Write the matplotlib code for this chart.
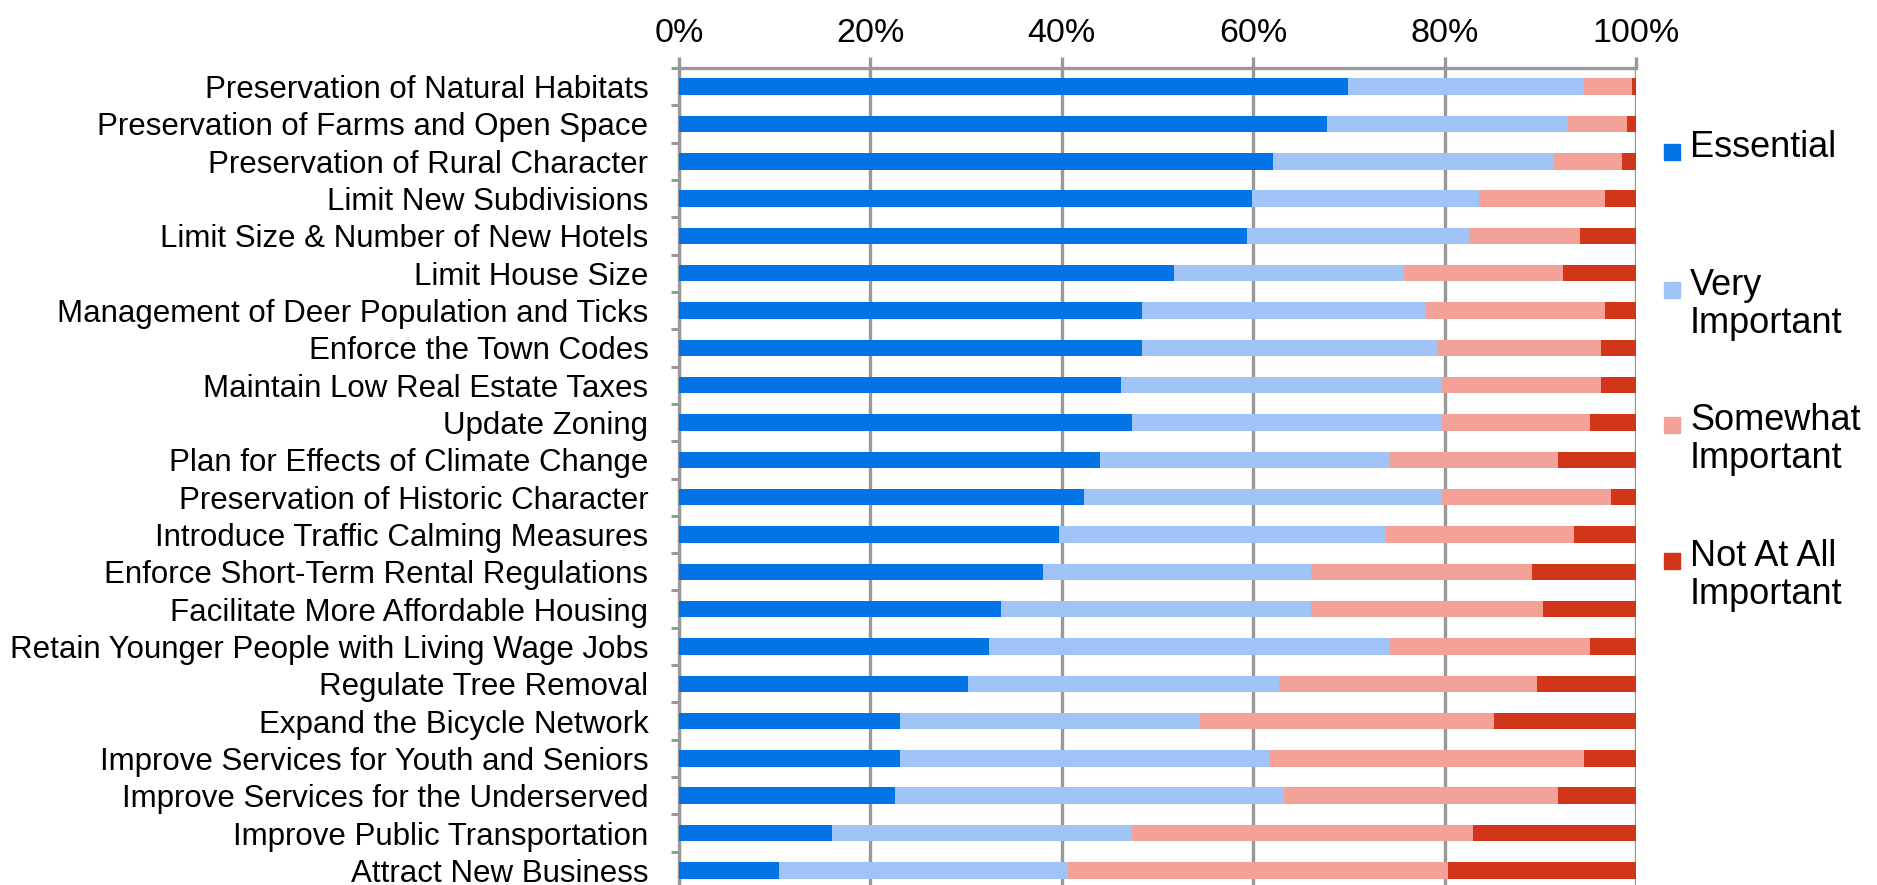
import matplotlib
matplotlib.use("Agg")
import matplotlib.pyplot as plt
from matplotlib.patches import Rectangle
from matplotlib.ticker import FixedLocator, PercentFormatter

plt.rcParams['font.family'] = ['Liberation Sans', 'DejaVu Sans']

categories = [
    "Preservation of Natural Habitats",
    "Preservation of Farms and Open Space",
    "Preservation of Rural Character",
    "Limit New Subdivisions",
    "Limit Size & Number of New Hotels",
    "Limit House Size",
    "Management of Deer Population and Ticks",
    "Enforce the Town Codes",
    "Maintain Low Real Estate Taxes",
    "Update Zoning",
    "Plan for Effects of Climate Change",
    "Preservation of Historic Character",
    "Introduce Traffic Calming Measures",
    "Enforce Short-Term Rental Regulations",
    "Facilitate More Affordable Housing",
    "Retain Younger People with Living Wage Jobs",
    "Regulate Tree Removal",
    "Expand the Bicycle Network",
    "Improve Services for Youth and Seniors",
    "Improve Services for the Underserved",
    "Improve Public Transportation",
    "Attract New Business",
]

essential = [69.9, 67.7, 62.1, 59.9, 59.3, 51.7, 48.4, 48.4, 46.2, 47.3, 44.0,
             42.3, 39.7, 38.0, 33.6, 32.4, 30.2, 23.1, 23.1, 22.6, 16.0, 10.4]
very_important = [24.7, 25.2, 29.2, 23.7, 23.2, 24.1, 29.7, 30.8, 33.5, 32.4, 30.3,
                  37.4, 34.1, 28.0, 32.4, 41.9, 32.5, 31.3, 38.6, 40.6, 31.3, 30.3]
somewhat_important = [5.0, 6.2, 7.2, 13.2, 11.6, 16.6, 18.7, 17.1, 16.6, 15.5, 17.6,
                      17.7, 19.7, 23.1, 24.3, 20.9, 27.0, 30.8, 32.9, 28.7, 35.7, 39.7]
not_important = [0.4, 0.9, 1.5, 3.2, 5.9, 7.6, 3.2, 3.7, 3.7, 4.8, 8.1,
                 2.6, 6.5, 10.9, 9.7, 4.8, 10.3, 14.8, 5.4, 8.1, 17.0, 19.6]

series_names = ["Essential", "Very\nImportant", "Somewhat\nImportant", "Not At All\nImportant"]
series_values = [essential, very_important, somewhat_important, not_important]
colors = ["#0374E4", "#A1C4F8", "#F4A198", "#D1361B"]
x_ticks = [0, 20, 40, 60, 80, 100]

W, H = 1877, 885
fig = plt.figure(figsize=(W / 100, H / 100), dpi=100)
top_px, bot_px = 68, 889
ax = fig.add_axes([679 / W, 1 - bot_px / H, (1636 - 679) / W, (bot_px - top_px) / H])

n = len(categories)
ypos = list(range(n))
left = [0.0] * n
for vals, col in zip(series_values, colors):
    ax.barh(ypos, vals, left=left, height=0.44, color=col, zorder=3)
    left = [l + v for l, v in zip(left, vals)]

ax.set_xlim(0, 100)
ax.set_ylim(n - 0.5, -0.5)
ax.set_yticks(ypos)
ax.set_yticklabels(categories, fontsize=22.5)
ax.yaxis.set_minor_locator(FixedLocator([i - 0.5 for i in range(n + 1)]))
ax.tick_params(axis='y', which='major', length=0, pad=22)
ax.tick_params(axis='y', which='minor', length=6, width=2.2, color='#999999')

ax.xaxis.tick_top()
ax.set_xticks(x_ticks)
ax.xaxis.set_major_formatter(PercentFormatter(decimals=0))
ax.tick_params(axis='x', length=8, width=2.4, color='#999999', labelsize=24.5, pad=6)
ax.grid(axis='x', color='#999999', linewidth=2.4, zorder=0)

for s in ['right', 'bottom']:
    ax.spines[s].set_visible(False)
for s in ['left', 'top']:
    ax.spines[s].set_color('#999999')
    ax.spines[s].set_linewidth(2.4)

# Legend (manual layout to match reference)
marker_centers = [152, 290, 425, 561]
for name, col, yc in zip(series_names, colors, marker_centers):
    fig.patches.append(Rectangle((1664 / W, 1 - (yc + 8) / H), 16 / W, 16 / H,
                                 transform=fig.transFigure, color=col, figure=fig))
    fig.text(1690 / W, 1 - (yc - 22) / H, name, fontsize=26, va='top', ha='left',
             linespacing=1.12)

fig.savefig("out.png", dpi=100)
